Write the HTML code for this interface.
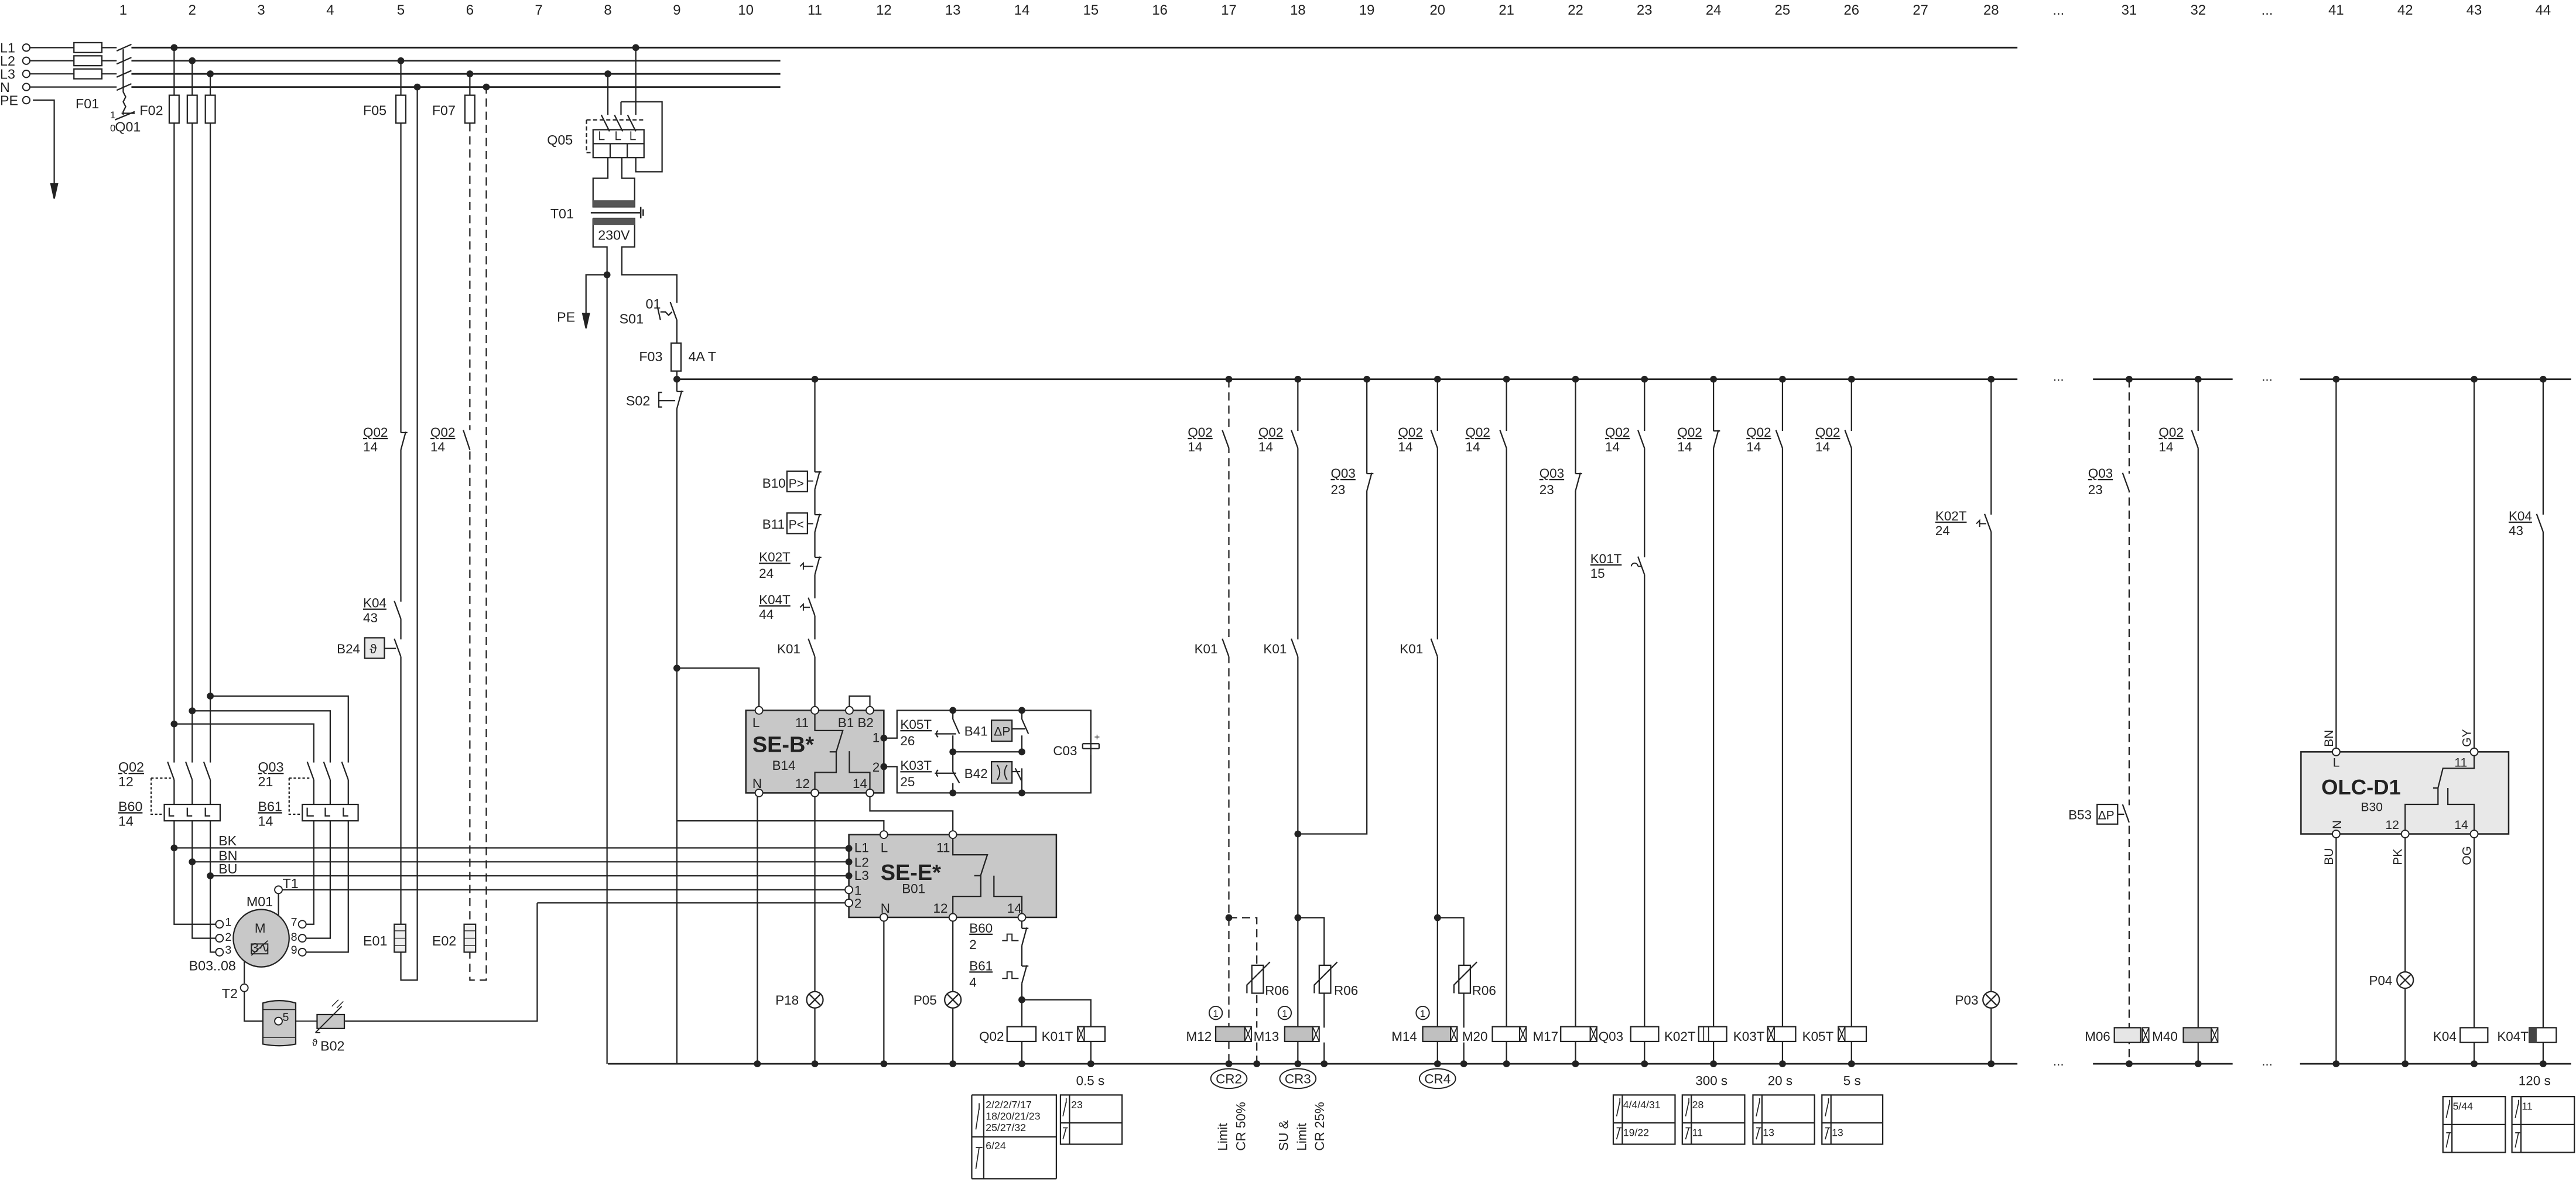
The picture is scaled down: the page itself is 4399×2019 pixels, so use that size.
<!DOCTYPE html>
<html><head><meta charset="utf-8"><style>
html,body{margin:0;padding:0;background:#fff;}
svg{display:block;}
text{font-family:"Liberation Sans",Arial,sans-serif;fill:#222;}
.u{text-decoration:underline;}
</style></head><body>
<svg xmlns="http://www.w3.org/2000/svg" width="4399" height="2019" viewBox="0 0 1568 720" preserveAspectRatio="none">
<defs>
<g id="dot"><circle r="2.1" fill="#222"/></g>
<g id="ot"><circle r="2.3" fill="#fff" stroke="#222" stroke-width="0.7"/></g>
<g id="no"><rect x="-2" y="-5.5" width="4" height="10.5" fill="#fff" stroke="none"/><line x1="0" y1="5" x2="-4" y2="-6" stroke="#222" stroke-width="0.8"/></g>
<g id="nc"><rect x="-2" y="-5.5" width="4" height="10.5" fill="#fff" stroke="none"/><line x1="0" y1="5" x2="3" y2="-6" stroke="#222" stroke-width="0.8"/><line x1="0" y1="-5.5" x2="4" y2="-5.5" stroke="#222" stroke-width="0.8"/></g>
<g id="lamp"><circle r="5" fill="#fff" stroke="#222" stroke-width="0.8"/><line x1="-3.5" y1="-3.5" x2="3.5" y2="3.5" stroke="#222" stroke-width="0.8"/><line x1="-3.5" y1="3.5" x2="3.5" y2="-3.5" stroke="#222" stroke-width="0.8"/></g>
<g id="xh"><rect x="0" y="0" width="4" height="9" fill="#fff" stroke="#222" stroke-width="0.7"/><path d="M0,0 L4,9 M4,0 L0,9" stroke="#222" stroke-width="0.6"/></g>
</defs>

<g font-size="8.5" text-anchor="middle">
<text x="75" y="9">1</text><text x="117" y="9">2</text><text x="159" y="9">3</text><text x="201" y="9">4</text><text x="244" y="9">5</text><text x="286" y="9">6</text><text x="328" y="9">7</text><text x="370" y="9">8</text><text x="412" y="9">9</text><text x="454" y="9">10</text><text x="496" y="9">11</text><text x="538" y="9">12</text><text x="580" y="9">13</text><text x="622" y="9">14</text><text x="664" y="9">15</text><text x="706" y="9">16</text><text x="748" y="9">17</text><text x="790" y="9">18</text><text x="832" y="9">19</text><text x="875" y="9">20</text><text x="917" y="9">21</text><text x="959" y="9">22</text><text x="1001" y="9">23</text><text x="1043" y="9">24</text><text x="1085" y="9">25</text><text x="1127" y="9">26</text><text x="1169" y="9">27</text><text x="1212" y="9">28</text><text x="1253" y="9">...</text><text x="1296" y="9">31</text><text x="1338" y="9">32</text><text x="1380" y="9">...</text><text x="1422" y="9">41</text><text x="1464" y="9">42</text><text x="1506" y="9">43</text><text x="1548" y="9">44</text>
</g>

<g stroke="#222" stroke-width="0.8" fill="none">
<path d="M18,29 H45 M62,29 H71 M18,37 H45 M62,37 H71 M18,45 H45 M62,45 H71 M18,53 H71"/>
<path d="M80,29 H1228 M80,37 H475 M80,45 H475 M80,53 H475" stroke-width="1"/>
<path d="M71,31 L80,27 M71,39 L80,35 M71,47 L80,43 M71,55 L80,51"/>
<path d="M75,30 V56 l1.5,3 -1.5,3 1.5,3 -1.5,3 V70"/>
<path d="M70,73 L82,68 M74,69 H82"/>
<rect x="45" y="26" width="17" height="6"/><rect x="45" y="34" width="17" height="6"/><rect x="45" y="42" width="17" height="6"/>
<path d="M20,61 H33 V113"/>
<path d="M33,121 L31,112 H35 Z" fill="#222"/>
<path d="M106,29 V563 H131 M117,37 V571.5 H131 M128,45 V580 H131"/>
<rect x="103" y="58" width="6" height="17" fill="#fff"/><rect x="114" y="58" width="6" height="17" fill="#fff"/><rect x="125" y="58" width="6" height="17" fill="#fff"/>
<path d="M106,441 H191 V563 H186 M117,433 H201 V571.5 H186 M128,424 H212 V580 H186"/>
<path d="M106,516.5 H516 M117,525 H516 M128,533.5 H516 M169.5,542 H516 M327,550 H516 M327,550 V622 H210"/>
<path d="M169.5,544 V572 M169.5,580 H148.7 V599"/>
<path d="M148.7,604 V622 H160"/>
<path d="M244,37 V597 H254 V53"/>
<rect x="241" y="58" width="6" height="17" fill="#fff"/>
<path d="M286,45 V58"/>
<rect x="283" y="58" width="6" height="17" fill="#fff"/>
<path d="M286,75 V597 H296 V53" stroke-dasharray="5,3"/>
<rect x="240" y="563" width="7" height="17" fill="#eee"/>
<path d="M240,567 H247 M240,571.5 H247 M240,576 H247" stroke-width="0.5"/>
<rect x="282.5" y="563" width="7" height="17" fill="#eee"/>
<path d="M282.5,567 H289.5 M282.5,571.5 H289.5 M282.5,576 H289.5" stroke-width="0.5"/>
<path d="M370,45 V70 M387,29 V70 M378,62 H403 V104.6 H387 V96"/>
<path d="M378,62 V70"/>
<path d="M366,70 L371,80 M374,70 L379,80 M382,70 L387,80"/>
<rect x="361" y="79" width="31" height="17"/>
<path d="M361,87.5 H392 M371.4,87.5 V96 M381.8,87.5 V96"/>
<path d="M357,73 H393 M357,73 V93 H361" stroke-dasharray="2.5,1.5"/>
<path d="M365,80 V85 H368 M375,80 V85 H378 M384,80 V85 H387" stroke-width="0.6"/>
<path d="M370,96 V108.6 H361 V126 H386.3 V108.6 H378.5 V96"/>
<rect x="361" y="122" width="25.3" height="4" fill="#555" stroke="none"/>
<path d="M359.6,129.6 H389.7 M390,126 V133 M391.5,127.5 V131.5" stroke-width="0.9"/>
<path d="M361,133 H386.3 V150.4 H378.5 V167.4 H412 V209 M361,133 V150.4 H369.5 V648"/>
<rect x="361" y="133" width="25.3" height="4" fill="#555" stroke="none"/>
<path d="M369.5,167.4 H356.7 V192"/>
<path d="M356.7,200 L354.7,191 H358.7 Z" fill="#222"/>
<rect x="408.5" y="209" width="6" height="17" fill="#fff"/>
<path d="M412,226 V648" />
<path d="M412,231 H1228" stroke-width="1"/>
<path d="M412,407 H462 V432 M412,500 H538 V508"/>
</g>
<use href="#no" x="412" y="190"/>
<g stroke="#222" stroke-width="0.8" fill="none"><path d="M400,186 L402,195 M402,190 H405 l2,2 2,-2"/></g>
<use href="#nc" x="412" y="244"/>
<g stroke="#222" stroke-width="0.8" fill="none"><path d="M403,239 h-2 v9 h2 M401,244 H411"/></g>

<g stroke="#222" stroke-width="0.8" fill="none">
<rect x="100" y="490" width="34" height="10" fill="#fff"/>
<rect x="184" y="490" width="34" height="10" fill="#fff"/>
<path d="M92,474 H106 M92,474 V496 H100 M176,474 H191 M176,474 V496 H184" stroke-dasharray="1.5,1.2"/>
</g>
<g stroke="#222" stroke-width="0.8" fill="none">
<path d="M103,492 V497 H106 M114,492 V497 H117 M125,492 V497 H128 M187,492 V497 H191 M198,492 V497 H201 M209,492 V497 H212"/>
</g>
<use href="#no" x="106" y="470"/><use href="#no" x="117" y="470"/><use href="#no" x="128" y="470"/>
<use href="#no" x="191" y="470"/><use href="#no" x="201" y="470"/><use href="#no" x="212" y="470"/>

<ellipse cx="159" cy="571.5" rx="17" ry="17.5" fill="#c8c8c8" stroke="#222" stroke-width="0.8"/>
<rect x="153" y="575" width="10" height="6" fill="#c8c8c8" stroke="#222" stroke-width="0.7"/>
<path d="M153,582 L163,573" stroke="#222" stroke-width="0.6"/>
<use href="#ot" x="133.6" y="563"/><use href="#ot" x="133.6" y="571.5"/><use href="#ot" x="133.6" y="580"/>
<use href="#ot" x="184" y="563"/><use href="#ot" x="184" y="571.5"/><use href="#ot" x="184" y="580"/>
<use href="#ot" x="169.5" y="542"/><use href="#ot" x="148.7" y="601.7"/>
<path d="M160,611 q10,-3 20,0 V636 q-10,2 -20,0 Z" fill="#c8c8c8" stroke="#222" stroke-width="0.8"/>
<path d="M160,615 H180 M160,632 H180" stroke="#222" stroke-width="0.5"/>
<use href="#ot" x="169.5" y="622"/>
<rect x="193" y="618" width="16.6" height="8.5" fill="#c8c8c8" stroke="#222" stroke-width="0.8"/>
<path d="M180,622 H193 M192,629 L208,613 M195,629 H192" stroke="#222" stroke-width="0.7"/>
<path d="M202,613 l4,-4 M205,614 l4,-4" stroke="#222" stroke-width="0.5"/>

<g font-size="8.3">
<text x="0" y="32">L1</text><text x="0" y="40">L2</text><text x="0" y="48">L3</text><text x="0" y="56">N</text><text x="0" y="64">PE</text>
<text x="46" y="66">F01</text><text x="85" y="70">F02</text><text x="67" y="80" font-size="6">0</text><text x="70" y="80">Q01</text><text x="67" y="72" font-size="6">1</text>
<text x="221" y="70">F05</text><text x="263" y="70">F07</text>
<text x="333" y="88">Q05</text><text x="335" y="133">T01</text><text x="364" y="146">230V</text>
<text x="339" y="196">PE</text><text x="393" y="188">01</text><text x="377" y="197">S01</text>
<text x="389" y="220">F03</text><text x="419" y="220">4A T</text><text x="381" y="247">S02</text>
<text x="72" y="470" class="u">Q02</text><text x="72" y="479">12</text>
<text x="72" y="494" class="u">B60</text><text x="72" y="503">14</text>
<text x="157" y="470" class="u">Q03</text><text x="157" y="479">21</text>
<text x="157" y="494" class="u">B61</text><text x="157" y="503">14</text>
<text x="133" y="515">BK</text><text x="133" y="524">BN</text><text x="133" y="532">BU</text>
<text x="172" y="541">T1</text><text x="150" y="552">M01</text>
<text x="155" y="568" font-size="8">M</text><text x="153" y="580" font-size="8">3∿</text>
<text x="137" y="564" font-size="7">1</text><text x="137" y="573" font-size="7">2</text><text x="137" y="581" font-size="7">3</text>
<text x="177" y="564" font-size="7">7</text><text x="177" y="573" font-size="7">8</text><text x="177" y="581" font-size="7">9</text>
<text x="115" y="591">B03..08</text><text x="135" y="608">T2</text><text x="172" y="622" font-size="7">5</text>
<text x="190" y="637" font-size="6">ϑ</text><text x="195" y="640">B02</text>
<text x="221" y="576">E01</text><text x="263" y="576">E02</text>
</g>

<use href="#nc" x="244" y="269"/><use href="#no" x="244" y="372"/><use href="#no" x="244" y="395"/>
<rect x="222" y="388.5" width="12" height="12.5" fill="#e8e8e8" stroke="#222" stroke-width="0.8"/>
<path d="M234,395 H241" stroke="#222" stroke-width="0.8"/>
<rect x="284" y="262" width="4" height="11" fill="#fff"/>
<path d="M286,274 L282,262" stroke="#222" stroke-width="0.8"/>
<g font-size="8">
<text x="221" y="266" class="u">Q02</text><text x="221" y="275">14</text>
<text x="221" y="370" class="u">K04</text><text x="221" y="379">43</text>
<text x="205" y="398">B24</text><text x="225" y="398" font-size="8">ϑ</text>
<text x="262" y="266" class="u">Q02</text><text x="262" y="275">14</text>
</g>

<g stroke="#222" stroke-width="0.8" fill="none">
<path d="M370,648 H1228" stroke-width="1"/>
<path d="M496,231 V432 M461,484 V648 M496,484 V604 M496,614 V648 M538,559 V648 M580,559 V604 M580,614 V648 M622,559 V625 M622,634 V648 M622,609 H664 V625 M664,634 V648"/>
<path d="M529.5,484 V494 H580 V508"/>
<path d="M748,231 V625 M748,634 V648 M748,559 H765 V626 M765,635 V648" stroke-dasharray="5,3"/>
<path d="M790,231 V625 M790,634 V648 M790,559 H806 V626 M806,635 V648 M790,508 H832 V231"/>
<path d="M875,231 V625 M875,634 V648 M875,559 H891 V626 M891,635 V648"/>
<path d="M917,231 V648 M959,231 V648 M1001,231 V648 M1043,231 V648 M1085,231 V648 M1127,231 V648 M1212,231 V648"/>
<path d="M1274,231 H1359 M1400,231 H1565 M1274,648 H1359 M1400,648 H1565" stroke-width="1"/>
<path d="M1296,231 V648" stroke-dasharray="5,3"/>
<path d="M1338,231 V648 M1422,231 V458 M1422,508 V648 M1506,231 V458 M1506,508 V648 M1464,508 V648 M1548,231 V648"/>
</g>
<g font-size="8" text-anchor="middle"><text x="1253" y="232">...</text><text x="1380" y="232">...</text><text x="1253" y="649">...</text><text x="1380" y="649">...</text></g>

<use href="#nc" x="496" y="293"/><use href="#nc" x="496" y="319"/><use href="#nc" x="496" y="345"/><use href="#no" x="496" y="370"/><use href="#no" x="496" y="395"/>
<rect x="479" y="287" width="12.5" height="12.5" fill="#fff" stroke="#222" stroke-width="0.8"/>
<rect x="479" y="312.5" width="12.5" height="12.5" fill="#fff" stroke="#222" stroke-width="0.8"/>
<path d="M491.5,293 H495 M491.5,319 H495 M487,345 l2,-2 v4 M489,345 H495 M487,370 l2,-2 v4 M489,370 H493" stroke="#222" stroke-width="0.7" fill="none"/>
<use href="#no" x="748" y="268"/><use href="#no" x="748" y="395"/>
<use href="#no" x="790" y="268"/><use href="#no" x="790" y="395"/>
<use href="#nc" x="832" y="294"/>
<use href="#no" x="875" y="268"/><use href="#no" x="875" y="395"/>
<use href="#no" x="917" y="268"/>
<use href="#nc" x="959" y="294"/>
<use href="#no" x="1001" y="268"/><use href="#no" x="1001" y="345"/>
<use href="#nc" x="1043" y="268"/><use href="#no" x="1085" y="268"/><use href="#no" x="1127" y="268"/>
<use href="#no" x="1212" y="319"/>
<use href="#no" x="1296" y="294"/><use href="#no" x="1296" y="496"/>
<use href="#no" x="1338" y="268"/><use href="#no" x="1548" y="319"/>
<path d="M993,345 a2,2 0 0,1 4,0 M997,345 H999 M1203,319 l2,-2 v4 M1205,319 H1209" stroke="#222" stroke-width="0.7" fill="none"/>
<rect x="1276.5" y="490" width="12.5" height="12" fill="#fff" stroke="#222" stroke-width="0.8"/>
<path d="M1289,496 H1293" stroke="#222" stroke-width="0.8"/>

<g font-size="8">
<text x="464" y="297">B10</text><text x="480" y="297" font-size="7.5">P&gt;</text>
<text x="464" y="322">B11</text><text x="480" y="322" font-size="7.5">P&lt;</text>
<text x="462" y="342" class="u">K02T</text><text x="462" y="352">24</text>
<text x="462" y="368" class="u">K04T</text><text x="462" y="377">44</text>
<text x="473" y="398">K01</text>
<text x="723" y="266" class="u">Q02</text><text x="723" y="275">14</text><text x="727" y="398">K01</text>
<text x="766" y="266" class="u">Q02</text><text x="766" y="275">14</text><text x="769" y="398">K01</text>
<text x="810" y="291" class="u">Q03</text><text x="810" y="301">23</text>
<text x="851" y="266" class="u">Q02</text><text x="851" y="275">14</text><text x="852" y="398">K01</text>
<text x="892" y="266" class="u">Q02</text><text x="892" y="275">14</text>
<text x="937" y="291" class="u">Q03</text><text x="937" y="301">23</text>
<text x="977" y="266" class="u">Q02</text><text x="977" y="275">14</text>
<text x="968" y="343" class="u">K01T</text><text x="968" y="352">15</text>
<text x="1021" y="266" class="u">Q02</text><text x="1021" y="275">14</text>
<text x="1063" y="266" class="u">Q02</text><text x="1063" y="275">14</text>
<text x="1105" y="266" class="u">Q02</text><text x="1105" y="275">14</text>
<text x="1178" y="317" class="u">K02T</text><text x="1178" y="326">24</text>
<text x="1271" y="291" class="u">Q03</text><text x="1271" y="301">23</text>
<text x="1314" y="266" class="u">Q02</text><text x="1314" y="275">14</text>
<text x="1527" y="317" class="u">K04</text><text x="1527" y="326">43</text>
<text x="1259" y="499">B53</text><text x="1277" y="499" font-size="7.5">ΔP</text>
</g>

<rect x="454" y="432.7" width="84" height="50.3" fill="#c8c8c8" stroke="#222" stroke-width="0.9"/>
<g stroke="#222" stroke-width="0.8" fill="none">
<path d="M517,432.7 V424 H529.5 V432.7"/>
<path d="M496,432.7 V445 H513 L509,458 M505,458 H509 V470.5 H496 V483 M517,457.6 V470.5 H529.5 V483"/>
<path d="M538,449.6 H546 V432.7 H664 V483 H546 V467 H538"/>
<path d="M580,432.7 V438 M580,448 V470 M580,477 V483 M580,438 L584,447"/>
<path d="M622,432.7 V438 M622,448 V458 M622,468 V483 M622,438 L626,447 M618,468 L622,476"/>
<path d="M580,470 L584,477"/>
<path d="M580,458 H622"/>
<path d="M571,449 a2.5,2.5 0 0,1 0,-4 M569,447 H582 M571,473 a2.5,2.5 0 0,1 0,-4 M569,471 H582"/>
<path d="M616,444 H624 M616,470 H621"/>
<path d="M664,432.7 V452 M664,460 V483 M659,453 H669 M659,456 H669 M659,453 V456 M669,453 V456"/>
</g>
<rect x="603.5" y="438.7" width="12.5" height="12.8" fill="#c8c8c8" stroke="#222" stroke-width="0.8"/>
<rect x="603.5" y="464" width="12.5" height="13" fill="#c8c8c8" stroke="#222" stroke-width="0.8"/>
<path d="M607,466 q3,4.5 0,9 M613,466 q-3,4.5 0,9" stroke="#222" stroke-width="0.7" fill="none"/>
<use href="#ot" x="462" y="432.7"/><use href="#ot" x="496" y="432.7"/><use href="#ot" x="517" y="432.7"/><use href="#ot" x="529.5" y="432.7"/>
<use href="#ot" x="462" y="483"/><use href="#ot" x="496" y="483"/><use href="#ot" x="529.5" y="483"/>
<use href="#dot" x="538" y="449.6"/><use href="#dot" x="538" y="467"/>
<use href="#dot" x="580" y="432.7"/><use href="#dot" x="580" y="458"/><use href="#dot" x="580" y="483"/>
<use href="#dot" x="622" y="432.7"/><use href="#dot" x="622" y="458"/><use href="#dot" x="622" y="483"/>
<g font-size="8">
<text x="458" y="443">L</text><text x="484" y="443">11</text><text x="510" y="443">B1</text><text x="522" y="443">B2</text>
<text x="531" y="452">1</text><text x="531" y="470">2</text>
<text x="458" y="480">N</text><text x="484" y="480">12</text><text x="519" y="480">14</text>
<text x="470" y="469">B14</text>
<text x="548" y="444" class="u">K05T</text><text x="548" y="454">26</text>
<text x="548" y="469" class="u">K03T</text><text x="548" y="479">25</text>
<text x="587" y="448">B41</text><text x="605" y="448" font-size="7.5">ΔP</text><text x="587" y="474">B42</text>
<text x="641" y="460">C03</text><text x="666" y="451" font-size="6">+</text>
</g>
<text x="458" y="458" font-size="13.5" font-weight="bold">SE-B*</text>

<rect x="516.7" y="508.4" width="126.3" height="50.4" fill="#c8c8c8" stroke="#222" stroke-width="0.9"/>
<g stroke="#222" stroke-width="0.8" fill="none">
<path d="M580,508.4 V520.7 H601 L597,533 M593,533.4 H597 V546 H580 V558.8 M605,533.4 V546 H622 V558.8"/>
</g>
<use href="#ot" x="538" y="508.4"/><use href="#ot" x="580" y="508.4"/>
<use href="#ot" x="538" y="558.8"/><use href="#ot" x="580" y="558.8"/><use href="#ot" x="622" y="558.8"/>
<use href="#dot" x="516.7" y="516.8"/><use href="#dot" x="516.7" y="525"/><use href="#dot" x="516.7" y="533.5"/>
<use href="#ot" x="516.7" y="542"/><use href="#ot" x="516.7" y="550"/>
<g font-size="8">
<text x="520" y="519">L1</text><text x="520" y="528">L2</text><text x="520" y="536">L3</text><text x="520" y="545">1</text><text x="520" y="553">2</text>
<text x="536" y="519">L</text><text x="570" y="519">11</text>
<text x="536" y="556">N</text><text x="568" y="556">12</text><text x="613" y="556">14</text>
<text x="549" y="544">B01</text>
</g>
<text x="536" y="536" font-size="13.5" font-weight="bold">SE-E*</text>

<use href="#nc" x="622" y="571"/><use href="#nc" x="622" y="594"/>
<path d="M610,573 H613 V569 H616 V573 H620 M610,596 H613 V592 H616 V596 H620" stroke="#222" stroke-width="0.7" fill="none"/>
<g font-size="8">
<text x="590" y="568" class="u">B60</text><text x="590" y="578">2</text>
<text x="590" y="591" class="u">B61</text><text x="590" y="601">4</text>
<text x="472" y="612">P18</text><text x="556" y="612">P05</text>
</g>
<use href="#lamp" x="496" y="609"/><use href="#lamp" x="580" y="609"/>
<use href="#lamp" x="1212" y="609"/><use href="#lamp" x="1464" y="597"/>

<g stroke="#222" stroke-width="0.8">
<rect x="613" y="625.4" width="17.6" height="9" fill="#fff"/>
<rect x="656" y="625.4" width="16.6" height="9" fill="#fff"/>
<rect x="740" y="625.4" width="17.7" height="9" fill="#c0c0c0"/>
<rect x="782" y="625.4" width="17" height="9" fill="#c0c0c0"/>
<rect x="866" y="625.4" width="17" height="9" fill="#c0c0c0"/>
<rect x="908.4" y="625.4" width="16.6" height="9" fill="#fff"/>
<rect x="950" y="625.4" width="18" height="9" fill="#fff"/>
<rect x="992.6" y="625.4" width="17" height="9" fill="#fff"/>
<rect x="1034" y="625.4" width="17" height="9" fill="#fff"/>
<rect x="1076" y="625.4" width="17" height="9" fill="#fff"/>
<rect x="1119" y="625.4" width="17" height="9" fill="#fff"/>
<rect x="1287" y="626" width="16" height="9" fill="#e6e6e6"/>
<rect x="1329" y="626" width="17" height="9" fill="#c0c0c0"/>
<rect x="1497.5" y="626" width="16.8" height="9" fill="#fff"/>
<rect x="1539.6" y="626" width="16.4" height="9" fill="#fff"/>
</g>
<rect x="1539.6" y="626" width="4.5" height="9" fill="#444"/>
<path d="M1037,625.4 V634.4 M1040,625.4 V634.4" stroke="#222" stroke-width="0.6"/>
<use href="#xh" x="656" y="625.4"/><use href="#xh" x="1076" y="625.4"/><use href="#xh" x="1119" y="625.4"/>
<use href="#xh" x="757.7" y="625.4"/><use href="#xh" x="799" y="625.4"/><use href="#xh" x="883" y="625.4"/>
<use href="#xh" x="925" y="625.4"/><use href="#xh" x="968" y="625.4"/>
<use href="#xh" x="1304" y="626"/><use href="#xh" x="1346" y="626"/>
<g font-size="8">
<text x="596" y="634">Q02</text><text x="634" y="634">K01T</text><text x="655" y="661">0.5 s</text>
<text x="722" y="634">M12</text><text x="763" y="634">M13</text><text x="847" y="634">M14</text><text x="890" y="634">M20</text><text x="933" y="634">M17</text><text x="973" y="634">Q03</text><text x="1013" y="634">K02T</text><text x="1055" y="634">K03T</text><text x="1097" y="634">K05T</text>
<text x="1032" y="661">300 s</text><text x="1076" y="661">20 s</text><text x="1122" y="661">5 s</text>
<text x="1269" y="634">M06</text><text x="1310" y="634">M40</text>
<text x="1481" y="634">K04</text><text x="1520" y="634">K04T</text>
<text x="1533" y="661">120 s</text>
<text x="1190" y="612">P03</text><text x="1442" y="600">P04</text>
<text x="770" y="606">R06</text><text x="812" y="606">R06</text><text x="896" y="606">R06</text>
</g>
<g stroke="#222" stroke-width="0.8" fill="#fff">
<rect x="762" y="588" width="7" height="17"/><rect x="803" y="588" width="7" height="17"/><rect x="888" y="588" width="7" height="17"/>
<path d="M759,605 V600 L773,586 M800,605 V600 L814,586 M885,605 V600 L899,586" fill="none"/>
</g>
<g stroke="#222" stroke-width="0.7" fill="#fff">
<circle cx="740" cy="617" r="4"/><circle cx="782" cy="617" r="4"/><circle cx="866" cy="617" r="4"/>
<ellipse cx="748" cy="657" rx="11" ry="6"/><ellipse cx="790" cy="657" rx="11" ry="6"/><ellipse cx="875" cy="657" rx="11" ry="6"/>
</g>
<g font-size="6" text-anchor="middle"><text x="740" y="619.5">1</text><text x="782" y="619.5">1</text><text x="866" y="619.5">1</text></g>
<g font-size="8" text-anchor="middle"><text x="748" y="660">CR2</text><text x="790" y="660">CR3</text><text x="875" y="660">CR4</text></g>
<g font-size="8">
<text transform="translate(747,701) rotate(-90)">Limit</text>
<text transform="translate(758,701) rotate(-90)">CR 50%</text>
<text transform="translate(784,701) rotate(-90)">SU &amp;</text>
<text transform="translate(795,701) rotate(-90)">Limit</text>
<text transform="translate(806,701) rotate(-90)">CR 25%</text>
</g>

<rect x="1400.6" y="458" width="126.4" height="50" fill="#e8e8e8" stroke="#222" stroke-width="0.9"/>
<path d="M1506,458 V468 H1487 L1484,480 M1481,480 H1484 V490 H1464 V508 M1490,480 V490 H1506 V508" stroke="#222" stroke-width="0.8" fill="none"/>
<use href="#ot" x="1422" y="458"/><use href="#ot" x="1506" y="458"/><use href="#ot" x="1422" y="508"/><use href="#ot" x="1464" y="508"/><use href="#ot" x="1506" y="508"/>
<text x="1413" y="484" font-size="13" font-weight="bold">OLC-D1</text>
<g font-size="7.5">
<text x="1437" y="494">B30</text>
<text x="1420" y="467">L</text><text x="1494" y="467">11</text><text x="1452" y="505">12</text><text x="1494" y="505">14</text>
<text transform="translate(1425,505) rotate(-90)">N</text>
<text transform="translate(1420,455) rotate(-90)">BN</text>
<text transform="translate(1504,455) rotate(-90)">GY</text>
<text transform="translate(1420,527) rotate(-90)">BU</text>
<text transform="translate(1462,527) rotate(-90)">PK</text>
<text transform="translate(1504,527) rotate(-90)">OG</text>
</g>

<g>
<use href="#dot" x="106" y="29"/><use href="#dot" x="117" y="37"/><use href="#dot" x="128" y="45"/><use href="#dot" x="244" y="37"/><use href="#dot" x="254" y="53"/><use href="#dot" x="286" y="45"/><use href="#dot" x="296" y="53"/><use href="#dot" x="370" y="45"/><use href="#dot" x="387" y="29"/>
<use href="#dot" x="106" y="441"/><use href="#dot" x="117" y="433"/><use href="#dot" x="128" y="424"/>
<use href="#dot" x="106" y="516.5"/><use href="#dot" x="117" y="525"/><use href="#dot" x="128" y="533.5"/>
<use href="#dot" x="369.5" y="167.4"/><use href="#dot" x="412" y="231"/><use href="#dot" x="412" y="407"/>
<use href="#dot" x="622" y="609"/><use href="#dot" x="790" y="508"/>
<use href="#dot" x="748" y="559"/><use href="#dot" x="790" y="559"/><use href="#dot" x="875" y="559"/>
<use href="#dot" x="496" y="231"/><use href="#dot" x="748" y="231"/><use href="#dot" x="790" y="231"/><use href="#dot" x="832" y="231"/><use href="#dot" x="875" y="231"/><use href="#dot" x="917" y="231"/><use href="#dot" x="959" y="231"/><use href="#dot" x="1001" y="231"/><use href="#dot" x="1043" y="231"/><use href="#dot" x="1085" y="231"/><use href="#dot" x="1127" y="231"/><use href="#dot" x="1212" y="231"/>
<use href="#dot" x="1296" y="231"/><use href="#dot" x="1338" y="231"/><use href="#dot" x="1422" y="231"/><use href="#dot" x="1506" y="231"/><use href="#dot" x="1548" y="231"/>
<use href="#dot" x="461" y="648"/><use href="#dot" x="496" y="648"/><use href="#dot" x="538" y="648"/><use href="#dot" x="580" y="648"/><use href="#dot" x="622" y="648"/><use href="#dot" x="664" y="648"/><use href="#dot" x="748" y="648"/><use href="#dot" x="765" y="648"/><use href="#dot" x="790" y="648"/><use href="#dot" x="806" y="648"/><use href="#dot" x="875" y="648"/><use href="#dot" x="891" y="648"/><use href="#dot" x="917" y="648"/><use href="#dot" x="959" y="648"/><use href="#dot" x="1001" y="648"/><use href="#dot" x="1043" y="648"/><use href="#dot" x="1085" y="648"/><use href="#dot" x="1127" y="648"/><use href="#dot" x="1212" y="648"/>
<use href="#dot" x="1296" y="648"/><use href="#dot" x="1338" y="648"/><use href="#dot" x="1422" y="648"/><use href="#dot" x="1464" y="648"/><use href="#dot" x="1506" y="648"/><use href="#dot" x="1548" y="648"/>
</g>
<g fill="#fff" stroke="#222" stroke-width="0.7"><circle cx="16" cy="29" r="2.2"/><circle cx="16" cy="37" r="2.2"/><circle cx="16" cy="45" r="2.2"/><circle cx="16" cy="53" r="2.2"/><circle cx="16" cy="61" r="2.2"/></g>

<g stroke="#222" stroke-width="0.8" fill="#fff">
<path d="M591.5,667 H643 V718 M591.5,667 V718 M598.8,667 V718 M591.5,692.5 H643 M591.5,718 H643"/>
<path d="M645.5,667 H683 V697 H645.5 Z M651,667 V697 M645.5,684 H683"/>
<path d="M982,667 H1019.6 V697 H982 Z M987.5,667 V697 M982,684 H1019.6"/>
<path d="M1024,667 H1062 V697 H1024 Z M1029.5,667 V697 M1024,684 H1062"/>
<path d="M1067,667 H1104.5 V697 H1067 Z M1072.5,667 V697 M1067,684 H1104.5"/>
<path d="M1109,667 H1146 V697 H1109 Z M1114.5,667 V697 M1109,684 H1146"/>
<path d="M1487,668 H1525 V702 H1487 Z M1492.5,668 V702 M1487,685 H1525"/>
<path d="M1529,668 H1567 V702 H1529 Z M1534.5,668 V702 M1529,685 H1567"/>
</g>
<g stroke="#222" stroke-width="0.6" fill="none">
<path d="M594,688 L596,675 M596,672 V676 M594,712 L596,699 M594,699 H598"/>
<path d="M647,680 L649,671 M649,669 V672 M647,694 L649,687 M647,687 H650"/>
<path d="M984,680 L986,671 M986,669 V672 M984,694 L986,687 M984,687 H987"/>
<path d="M1026,680 L1028,671 M1028,669 V672 M1026,694 L1028,687 M1026,687 H1029"/>
<path d="M1069,680 L1071,671 M1071,669 V672 M1069,694 L1071,687 M1069,687 H1072"/>
<path d="M1111,680 L1113,671 M1113,669 V672 M1111,694 L1113,687 M1111,687 H1114"/>
<path d="M1489,681 L1491,672 M1491,670 V673 M1489,699 L1491,690 M1489,690 H1492"/>
<path d="M1531,681 L1533,672 M1533,670 V673 M1531,699 L1533,690 M1531,690 H1534"/>
</g>
<g font-size="6.3">
<text x="600" y="675">2/2/2/7/17</text><text x="600" y="682">18/20/21/23</text><text x="600" y="689">25/27/32</text><text x="600" y="700">6/24</text>
<text x="652" y="675">23</text>
<text x="988" y="675">4/4/4/31</text><text x="988" y="692">19/22</text>
<text x="1030" y="675">28</text><text x="1030" y="692">11</text>
<text x="1073" y="692">13</text><text x="1115" y="692">13</text>
<text x="1493" y="676">5/44</text><text x="1535" y="676">11</text>
</g>
</svg>
</body></html>
